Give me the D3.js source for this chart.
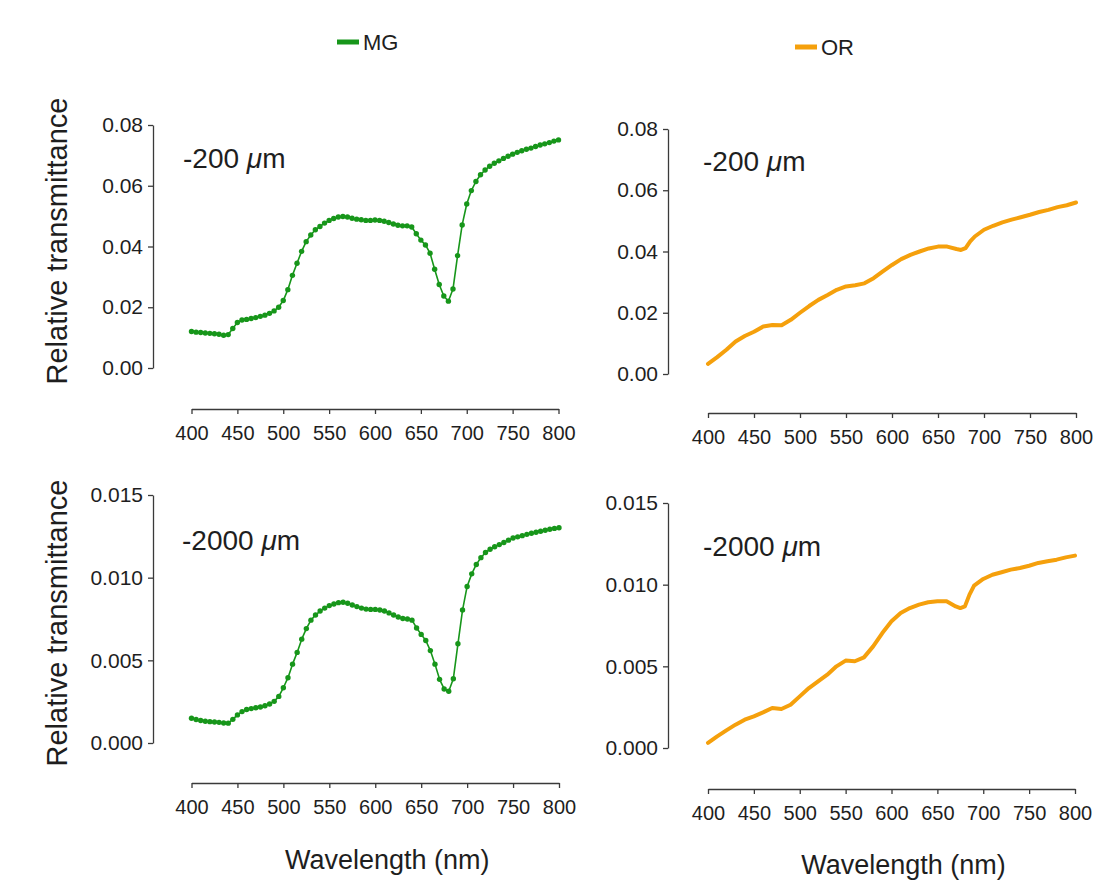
<!DOCTYPE html>
<html>
<head>
<meta charset="utf-8">
<script src="https://cdn.jsdelivr.net/npm/d3@7"></script>
<style>
  body { margin: 0; background: #fff; }
  text { font-family: "Liberation Sans", Arial, Helvetica, sans-serif; fill: #1e1e1e; }
</style>
</head>
<body>
<svg id="chart" width="1106" height="886"></svg>
<script>
// Wavelength grid of the MG spectra (nm)
const mgWavelength = [400,405,410,415,420,425,430,435,440,445,450,455,460,465,470,475,480,485,490,495,
  500,505,510,515,520,525,530,535,540,545,550,555,560,565,570,575,580,585,590,595,
  600,605,610,615,620,625,630,635,640,645,650,655,660,665,670,675,680,685,690,695,
  700,705,710,715,720,725,730,735,740,745,750,755,760,765,770,775,780,785,790,795,800];

// MG relative transmittance at -200 µm
const mg200 = [0.0120,0.0118,0.0117,0.0115,0.0114,0.0113,0.0111,0.0108,0.0110,0.0130,
  0.0150,0.0158,0.0160,0.0163,0.0166,0.0170,0.0174,0.0180,0.0188,0.0200,
  0.0222,0.0258,0.0305,0.0345,0.0384,0.0416,0.0438,0.0455,0.0466,0.0477,
  0.0486,0.0492,0.0497,0.0499,0.0497,0.0493,0.0490,0.0488,0.0486,0.0486,
  0.0487,0.0486,0.0483,0.0479,0.0474,0.0470,0.0468,0.0468,0.0464,0.0442,
  0.0421,0.0405,0.0378,0.0325,0.0275,0.0237,0.0220,0.0260,0.0370,0.0471,
  0.0540,0.0584,0.0614,0.0636,0.0652,0.0664,0.0674,0.0682,0.0690,0.0697,
  0.0704,0.0710,0.0715,0.0720,0.0724,0.0729,0.0734,0.0738,0.0742,0.0747,0.0751];

// MG relative transmittance at -2000 µm
const mg2000 = [0.00150,0.00142,0.00136,0.00132,0.00129,0.00127,0.00125,0.00121,0.00120,0.00143,
  0.00170,0.00190,0.00203,0.00208,0.00213,0.00218,0.00225,0.00236,0.00252,0.00282,
  0.00334,0.00395,0.00477,0.00548,0.00628,0.00692,0.00743,0.00774,0.00798,0.00816,
  0.00831,0.00841,0.00849,0.00851,0.00845,0.00835,0.00825,0.00816,0.00810,0.00808,
  0.00808,0.00804,0.00798,0.00787,0.00774,0.00762,0.00753,0.00750,0.00743,0.00696,
  0.00657,0.00620,0.00559,0.00477,0.00385,0.00327,0.00313,0.00389,0.00600,0.00804,
  0.00947,0.01023,0.01080,0.01121,0.01152,0.01172,0.01187,0.01200,0.01213,0.01227,
  0.01240,0.01247,0.01254,0.01262,0.01269,0.01275,0.01281,0.01287,0.01293,0.01298,0.01302];

// Wavelength grid of the OR spectra (nm)
const orWavelength = [400,410,420,430,440,450,460,470,480,490,500,510,520,530,540,550,560,570,580,590,
  600,610,620,630,640,650,660,670,675,680,685,690,700,710,720,730,740,750,760,770,780,790,800];

// OR relative transmittance at -200 µm
const or200 = [0.0033,0.0055,0.0079,0.0106,0.0124,0.0138,0.0155,0.0160,0.0159,0.0177,
  0.0200,0.0222,0.0242,0.0258,0.0275,0.0286,0.0290,0.0296,0.0313,0.0335,
  0.0356,0.0375,0.0389,0.0400,0.0410,0.0416,0.0416,0.0408,0.0405,0.0411,
  0.0433,0.0449,0.0471,0.0484,0.0495,0.0504,0.0512,0.0520,0.0529,0.0536,
  0.0545,0.0551,0.0560];

// OR relative transmittance at -2000 µm
const or2000 = [0.00031,0.00071,0.00108,0.00143,0.00173,0.00194,0.00218,0.00245,0.00239,0.00265,
  0.00316,0.00367,0.00408,0.00449,0.00500,0.00535,0.00531,0.00555,0.00622,0.00704,
  0.00776,0.00827,0.00857,0.00878,0.00892,0.00898,0.00898,0.00867,0.00857,0.00867,
  0.00939,0.00994,0.01035,0.01061,0.01076,0.01092,0.01102,0.01116,0.01133,0.01143,
  0.01153,0.01167,0.01178];

const xTicks = [400,450,500,550,600,650,700,750,800];
const yTicksShallow = [0, 0.02, 0.04, 0.06, 0.08];
const yTicksDeep = [0, 0.005, 0.010, 0.015];

const seriesNames = ["MG", "OR"];
const depthLabels = ["-200", "-2000"];

const GREEN = "#17961a";
const ORANGE = "#f5a00c";
const AXIS = "#3a3a3a";

const svg = d3.select("#chart");

// Panel geometry: plot frame, separate y-axis line and x-axis baseline
const panels = [
  { wl: mgWavelength, v: mg200, color: GREEN, ticks: yTicksShallow, fmt: ".2f", dots: true,
    x0: 191.5, x1: 558.5, yTop: 125, yBot: 368, axisX: 153, axisY: 409,
    depth: depthLabels[0], labX: 183, labY: 168, ylab: true, ylabY: 241, xlab: false },
  { wl: orWavelength, v: or200, color: ORANGE, ticks: yTicksShallow, fmt: ".2f", dots: false,
    x0: 708, x1: 1076, yTop: 129, yBot: 374, axisX: 668, axisY: 413,
    depth: depthLabels[0], labX: 703, labY: 171, ylab: false, xlab: false },
  { wl: mgWavelength, v: mg2000, color: GREEN, ticks: yTicksDeep, fmt: ".3f", dots: true,
    x0: 191.5, x1: 559, yTop: 495, yBot: 743, axisX: 153, axisY: 783,
    depth: depthLabels[1], labX: 182, labY: 550, ylab: true, ylabY: 623, xlab: true, xlabY: 869 },
  { wl: orWavelength, v: or2000, color: ORANGE, ticks: yTicksDeep, fmt: ".3f", dots: false,
    x0: 708, x1: 1075, yTop: 503, yBot: 748, axisX: 668, axisY: 789,
    depth: depthLabels[1], labX: 703, labY: 556, ylab: false, xlab: true, xlabY: 874 }
];

panels.forEach(p => {
  const x = d3.scaleLinear().domain([400, 800]).range([p.x0, p.x1]);
  const y = d3.scaleLinear().domain([0, d3.max(p.ticks)]).range([p.yBot, p.yTop]);
  const g = svg.append("g");

  // y axis
  const ya = g.append("g").attr("transform", `translate(${p.axisX},0)`)
    .call(d3.axisLeft(y).tickValues(p.ticks).tickFormat(d3.format(p.fmt)).tickSize(5).tickPadding(5).tickSizeOuter(0));
  ya.select(".domain").attr("stroke", AXIS).attr("stroke-width", 1.3);
  ya.selectAll(".tick line").attr("stroke", AXIS).attr("stroke-width", 1.3);
  ya.selectAll(".tick text").attr("font-size", 21).attr("fill", "#222")
    .attr("font-family", "'Liberation Sans', Arial, sans-serif");

  // x axis
  const xa = g.append("g").attr("transform", `translate(0,${p.axisY})`)
    .call(d3.axisBottom(x).tickValues(xTicks).tickFormat(d3.format("d")).tickSize(5).tickPadding(12).tickSizeOuter(0));
  xa.select(".domain").attr("stroke", AXIS).attr("stroke-width", 1.3);
  xa.selectAll(".tick line").attr("stroke", AXIS).attr("stroke-width", 1.3);
  xa.selectAll(".tick text").attr("font-size", 20).attr("fill", "#222")
    .attr("font-family", "'Liberation Sans', Arial, sans-serif");

  const pts = p.wl.map((w, i) => [w, p.v[i]]);
  const line = d3.line().x(d => x(d[0])).y(d => y(d[1]));

  g.append("path").datum(pts)
    .attr("d", line)
    .attr("fill", "none")
    .attr("stroke", p.color)
    .attr("stroke-width", p.dots ? 1.6 : 4)
    .attr("stroke-linejoin", "round")
    .attr("stroke-linecap", "round");

  if (p.dots) {
    g.selectAll("circle.pt").data(pts).enter().append("circle")
      .attr("class", "pt")
      .attr("cx", d => x(d[0])).attr("cy", d => y(d[1]))
      .attr("r", 2.7).attr("fill", p.color);
  }

  // depth annotation
  const t = g.append("text").attr("x", p.labX).attr("y", p.labY).attr("font-size", 28);
  t.append("tspan").text(p.depth + " ");
  t.append("tspan").attr("font-style", "italic").text("\u03bc");
  t.append("tspan").text("m");

  if (p.ylab) {
    g.append("text")
      .attr("transform", `translate(67,${p.ylabY}) rotate(-90)`)
      .attr("text-anchor", "middle").attr("font-size", 29)
      .text("Relative transmittance");
  }
  if (p.xlab) {
    g.append("text")
      .attr("x", (p.x0 + p.x1) / 2 + 12).attr("y", p.xlabY)
      .attr("text-anchor", "middle").attr("font-size", 27)
      .text("Wavelength (nm)");
  }
});

// Legend
const legend = [
  { name: seriesNames[0], color: GREEN, x: 337, y: 42 },
  { name: seriesNames[1], color: ORANGE, x: 795, y: 47 }
];
legend.forEach(l => {
  svg.append("line").attr("x1", l.x).attr("x2", l.x + 22).attr("y1", l.y).attr("y2", l.y)
    .attr("stroke", l.color).attr("stroke-width", 5);
  svg.append("text").attr("x", l.x + 26).attr("y", l.y + 8).attr("font-size", 22).text(l.name);
});
</script>
</body>
</html>
